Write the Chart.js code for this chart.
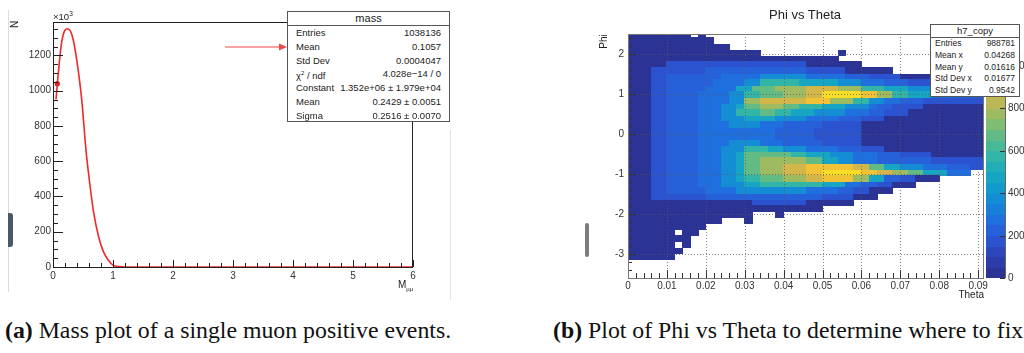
<!DOCTYPE html>
<html>
<head>
<meta charset="utf-8">
<script src="https://cdn.jsdelivr.net/npm/chart.js@4.4.0/dist/chart.umd.min.js"></script>
<style>
  body { margin: 0; background: #fff; width: 1024px; height: 353px; position: relative; overflow: hidden;
         font-family: "Liberation Sans", Arial, sans-serif; color: #222; }
  .abs { position: absolute; }
  canvas { position: absolute; top: 0; }
  .stats { position: absolute; background: #fff; border: 1px solid #555; box-sizing: border-box; }
  .stats .title { text-align: center; border-bottom: 1px solid #555; box-sizing: border-box; }
  .stats .row { position: relative; }
  .stats .row span { position: absolute; top: 0; white-space: nowrap; }
  .caption { position: absolute; font-family: "Liberation Serif", "Times New Roman", serif; font-size: 23.8px;
             white-space: nowrap; color: #111; line-height: 1; }
</style>
</head>
<body>
<canvas id="masa" width="460" height="300" style="left:0"></canvas>
<canvas id="phiTheta" width="444" height="300" style="left:580px"></canvas>

<div class="abs" style="left:8px;top:10px;width:1px;height:282px;background:#dcdcdc"></div>
<div class="abs" style="left:450px;top:130px;width:1px;height:170px;background:#e2e2e2"></div>
<div class="abs" style="left:8px;top:213px;width:5px;height:34px;background:#4a5866;border-radius:0 3px 3px 0"></div>
<div class="abs" style="left:585px;top:223px;width:4px;height:34px;background:#7c7c7c;border-radius:2px"></div>

<div class="abs" style="left:11px;top:19px;font-size:10px;transform:rotate(-90deg)">N</div>
<div class="abs" style="left:53px;top:10px;font-size:9.5px">×10<sup style="font-size:6.5px">3</sup></div>
<div class="abs" style="left:398px;top:279px;font-size:10px">M<sub style="font-size:6px">μμ</sub></div>

<svg class="abs" style="left:0;top:0" width="460" height="120">
  <line x1="225" y1="47" x2="281" y2="47" stroke="#f04848" stroke-width="1"/>
  <polygon points="279,43.5 287,47 279,50.5" fill="#f04848"/>
</svg>

<div id="massBox" class="stats" style="left:287px;top:11px;width:163px;height:111px;font-size:9.5px"></div>
<div id="h7Box" class="stats" style="left:930px;top:24px;width:90px;height:73px;font-size:8.5px"></div>

<div class="abs" style="left:705px;top:7px;width:200px;text-align:center;font-size:13px">Phi vs Theta</div>
<div class="abs" style="left:596px;top:36px;font-size:10px;transform:rotate(-90deg)">Phi</div>
<div class="abs" style="left:944px;top:289px;width:40px;text-align:right;font-size:10px">Theta</div>

<div class="caption" style="left:5px;top:319px"><b>(a)</b> Mass plot of a single muon positive events.</div>
<div class="caption" style="left:553px;top:319px"><b>(b)</b> Plot of Phi vs Theta to determine where to fix</div>
<div id="dbg" class="abs" style="left:470px;top:300px;font-size:9px;color:#c00"></div>

<script>
window.onerror = function (m, s, l) { document.getElementById("dbg").textContent = m + " @" + l; };

// ---- (a) mass plot: Gaussian fit curve
const massX = [0.05, 0.09, 0.14, 0.19, 0.24, 0.29, 0.34, 0.40, 0.48, 0.55, 0.62, 0.68, 0.76, 0.84, 0.92, 1.00, 1.10, 1.20, 6.00];
const massN = [950, 1105, 1266, 1338, 1352, 1340, 1285, 1165, 945, 662, 454, 304, 172, 87, 40, 11, 2, 0, 0];
const markX = [0.072];
const markN = [1040];
const massXTicks = [0, 1, 2, 3, 4, 5, 6];
const massYTicks = [0, 200, 400, 600, 800, 1000, 1200];

const massStats = [
  ["Entries", "1038136"],
  ["Mean", "0.1057"],
  ["Std Dev", "0.0004047"],
  ["χ<sup style='font-size:6px'>2</sup> / ndf", "4.028e−14 / 0"],
  ["Constant", "1.352e+06 ± 1.979e+04"],
  ["Mean", "0.2429 ± 0.0051"],
  ["Sigma", "0.2516 ± 0.0070"]
];

// ---- (b) Phi vs Theta: bins of 0.002 in theta, 0.15 in phi, rows from phi = 2.55 downwards
const thetaLow = 0, thetaStep = 0.002;
const phiHigh = 2.55, phiStep = 0.15;
// one character per cell: colour level 0 (empty) .. c (highest)
const heatRows = [
  "1111111101" + "0000000000" + "0000000000" + "0000000000" + "000000",
  "1111111111" + "1000000000" + "0000000000" + "0000000000" + "000000",
  "1111111111" + "1110000000" + "0000000000" + "0000000000" + "000000",
  "1111111111" + "1111111000" + "0000000100" + "0000000000" + "000000",
  "1111111111" + "1111111111" + "1111111000" + "0000000000" + "000000",
  "1111122222" + "2222222222" + "2221111111" + "0000000000" + "000000",
  "1112222222" + "3333333333" + "3332222211" + "1111000000" + "000000",
  "1112233333" + "3344444555" + "5554444433" + "3222211110" + "000000",
  "1112233333" + "3444455777" + "7766666555" + "4443332221" + "111000",
  "1112233333" + "4444668889" + "999aaaa999" + "7776665553" + "332222",
  "1112233334" + "4445577888" + "999aaccccc" + "bb99776664" + "443333",
  "1112233334" + "4445599aaa" + "aaabbb9997" + "7554433322" + "222222",
  "1112233334" + "4455688999" + "8877766655" + "5433222211" + "111111",
  "1112233334" + "4455777887" + "7666555544" + "4332221111" + "111111",
  "1112233334" + "4455566665" + "5554444333" + "2221111111" + "111111",
  "1112233334" + "4445555444" + "3333322222" + "1111111111" + "111111",
  "1112233334" + "4444444443" + "3333222222" + "1111111111" + "111111",
  "1112233334" + "4444444443" + "3333222222" + "1111111111" + "111111",
  "1112233334" + "4445555444" + "3333322222" + "1111111111" + "111111",
  "1112233334" + "4455577766" + "5554444333" + "2221111111" + "111111",
  "1112233334" + "4455688888" + "8776665554" + "4433322221" + "111111",
  "1112233334" + "4455688999" + "9998866554" + "4433333332" + "222222",
  "1112233334" + "4455688999" + "aaabbbbbba" + "a886655544" + "433322",
  "1112233334" + "4455688999" + "aaabbccccc" + "bbaa998866" + "644400",
  "1112233334" + "4455677888" + "999aabbbb9" + "9663322111" + "000000",
  "1112233334" + "4455566777" + "7777766644" + "3322111000" + "000000",
  "1112233333" + "4444555555" + "5554444332" + "2111000000" + "000000",
  "1112222222" + "3333333333" + "3333322221" + "1100000000" + "000000",
  "1111111111" + "1111112222" + "2221111110" + "0000000000" + "000000",
  "1111111111" + "1111111111" + "1111100000" + "0000000000" + "000000",
  "1111111111" + "1111110001" + "0000000000" + "0000000000" + "000000",
  "1111111111" + "1100010000" + "0000000000" + "0000000000" + "000000",
  "1111111111" + "0000000000" + "0000000000" + "0000000000" + "000000",
  "1111110110" + "0000000000" + "0000000000" + "0000000000" + "000000",
  "1111111100" + "0000000000" + "0000000000" + "0000000000" + "000000",
  "1111110100" + "0000000000" + "0000000000" + "0000000000" + "000000",
  "1111111000" + "0000000000" + "0000000000" + "0000000000" + "000000",
  "1111110000" + "0000000000" + "0000000000" + "0000000000" + "000000"
];
// entries per cell for each level
const levelCounts = [0, 25, 160, 210, 290, 375, 475, 575, 675, 775, 875, 975, 1075];
const zMax = 1150;
const zTicks = [0, 200, 400, 600, 800, 1000];
const thetaTicks = [0, 0.01, 0.02, 0.03, 0.04, 0.05, 0.06, 0.07, 0.08, 0.09];
const phiTicks = [-3, -2, -1, 0, 1, 2];

const h7Stats = [
  ["Entries", "988781"],
  ["Mean x", "0.04268"],
  ["Mean y", "0.01616"],
  ["Std Dev x", "0.01677"],
  ["Std Dev y", "0.9542"]
];

// palette, one colour per 50 entries
const paleta = ["#2b3494", "#2c3ca8", "#2d46bc", "#2b53d0", "#2761da", "#1f70de", "#187fda", "#148dd4",
  "#129acd", "#17a5c4", "#22aeb6", "#32b4a6", "#48b996", "#62bb84", "#80bc72", "#9ebb62",
  "#bab856", "#d2b64a", "#e6b940", "#f2c236", "#f8cf2e", "#f8dd26", "#f6eb1e"];

function colorPara(v) {
  return paleta[Math.min(paleta.length - 1, Math.floor(v / 50))];
}

function llenarCaja(id, titulo, filas, tituloAlto, filaAlto, tituloFont, pad) {
  const caja = document.getElementById(id);
  let html = `<div class="title" style="height:${tituloAlto}px;line-height:${tituloAlto - 1}px;font-size:${tituloFont}px">${titulo}</div>`;
  filas.forEach(f => {
    html += `<div class="row" style="height:${filaAlto}px;line-height:${filaAlto}px">` +
      `<span style="left:${pad}px">${f[0]}</span><span style="right:${pad}px">${f[1]}</span></div>`;
  });
  caja.innerHTML = html;
}
llenarCaja("massBox", "mass", massStats, 14, 13.8, 11, 8);
llenarCaja("h7Box", "h7_copy", h7Stats, 13, 11.8, 9.5, 4);

// ticks hacia dentro, estilo ROOT
function marcar(ctx, a, scale, step, len, vertical) {
  const k0 = Math.ceil(scale.min / step - 1e-6);
  const k1 = Math.floor(scale.max / step + 1e-6);
  ctx.beginPath();
  for (let k = k0; k <= k1; k++) {
    const p = Math.round(scale.getPixelForValue(k * step)) + 0.5;
    if (vertical) {
      ctx.moveTo(p, a.bottom);
      ctx.lineTo(p, a.bottom - len);
    } else {
      ctx.moveTo(a.left, p);
      ctx.lineTo(a.left + len, p);
    }
  }
  ctx.stroke();
}

function marcoRoot(opt) {
  return {
    id: "marcoRoot",
    beforeDatasetsDraw(chart) {
      if (opt.celdas) opt.celdas(chart);
    },
    afterDraw(chart) {
      const ctx = chart.ctx, a = chart.chartArea;
      const xs = chart.scales.x, ys = chart.scales.y;
      ctx.save();
      if (opt.grid) {
        ctx.strokeStyle = opt.grid;
        ctx.lineWidth = 1;
        ctx.setLineDash([1, 2]);
        ctx.beginPath();
        thetaTicks.forEach(v => {
          const px = Math.round(xs.getPixelForValue(v)) + 0.5;
          if (px > a.left + 2 && px < a.right - 2) { ctx.moveTo(px, a.top); ctx.lineTo(px, a.bottom); }
        });
        phiTicks.forEach(v => {
          const py = Math.round(ys.getPixelForValue(v)) + 0.5;
          if (py > a.top + 2 && py < a.bottom - 2) { ctx.moveTo(a.left, py); ctx.lineTo(a.right, py); }
        });
        ctx.stroke();
        ctx.setLineDash([]);
      }
      ctx.strokeStyle = opt.color;
      ctx.lineWidth = 1;
      marcar(ctx, a, xs, opt.xMinor, opt.xMinorLen, true);
      marcar(ctx, a, xs, opt.xMajor, opt.xMajorLen, true);
      marcar(ctx, a, ys, opt.yMinor, opt.yMinorLen, false);
      marcar(ctx, a, ys, opt.yMajor, opt.yMajorLen, false);
      ctx.strokeStyle = opt.frame;
      ctx.strokeRect(a.left + 0.5, a.top + 0.5, a.right - a.left - 1, a.bottom - a.top);
      ctx.restore();
      if (opt.despues) opt.despues(chart);
    }
  };
}

const fuenteEje = { family: "Liberation Sans", size: 10 };

new Chart(document.getElementById("masa"), {
  type: "line",
  data: {
    datasets: [{
      data: massX.map((x, i) => ({ x: x, y: massN[i] })),
      borderColor: "#f02828",
      borderWidth: 1.6,
      pointRadius: 0,
      cubicInterpolationMode: "monotone",
      fill: false
    }, {
      data: markX.map((x, i) => ({ x: x, y: markN[i] })),
      showLine: false,
      pointRadius: 2.6,
      pointBackgroundColor: "#e01818",
      pointBorderWidth: 0
    }]
  },
  options: {
    responsive: false,
    animation: false,
    layout: { padding: { top: 22, right: 47, left: 0, bottom: 0 } },
    plugins: { legend: { display: false }, tooltip: { enabled: false } },
    scales: {
      x: {
        type: "linear", min: 0, max: 6,
        grid: { display: false, drawTicks: false }, border: { display: false },
        ticks: { font: fuenteEje, color: "#333", padding: 3, maxRotation: 0, callback: v => String(v) },
        afterBuildTicks: s => { s.ticks = massXTicks.map(v => ({ value: v })); },
        afterFit: s => { s.height = 33; }
      },
      y: {
        type: "linear", min: 0, max: 1390,
        grid: { display: false, drawTicks: false }, border: { display: false },
        ticks: { font: fuenteEje, color: "#333", padding: 2, callback: v => String(v) },
        afterBuildTicks: s => { s.ticks = massYTicks.map(v => ({ value: v })); },
        afterFit: s => { s.width = 53; }
      }
    }
  },
  plugins: [marcoRoot({
    color: "#222", frame: "#222",
    xMajor: 1, xMinor: 0.2, xMajorLen: 7, xMinorLen: 4,
    yMajor: 200, yMinor: 50, yMajorLen: 10, yMinorLen: 5
  })]
});

function dibujarCeldas(chart) {
  const { ctx, chartArea: a, scales: { x, y } } = chart;
  ctx.save();
  ctx.beginPath();
  ctx.rect(a.left, a.top, a.right - a.left, a.bottom - a.top);
  ctx.clip();
  heatRows.forEach((fila, r) => {
    const techo = phiHigh - r * phiStep;
    const y0 = Math.floor(y.getPixelForValue(techo));
    const y1 = Math.ceil(y.getPixelForValue(techo - phiStep));
    for (let c = 0; c < fila.length; c++) {
      const nivel = parseInt(fila[c], 16);
      if (!nivel) continue;
      const x0 = Math.floor(x.getPixelForValue(thetaLow + c * thetaStep));
      const x1 = Math.ceil(x.getPixelForValue(thetaLow + (c + 1) * thetaStep));
      ctx.fillStyle = colorPara(levelCounts[nivel]);
      ctx.fillRect(x0, y0, x1 - x0, y1 - y0);
    }
  });
  ctx.restore();
}

function dibujarPaleta(chart) {
  const { ctx, chartArea: a, scales } = chart;
  const z = scales.zc;
  const izq = a.right + 2, der = a.right + 21;
  ctx.save();
  for (let b = 0; b * 50 < zMax; b++) {
    const yA = z.getPixelForValue(Math.min(zMax, (b + 1) * 50));
    const yB = z.getPixelForValue(b * 50);
    ctx.fillStyle = paleta[b];
    ctx.fillRect(izq, Math.floor(yA), der - izq, Math.ceil(yB) - Math.floor(yA));
  }
  ctx.strokeStyle = "#666";
  ctx.beginPath(); ctx.moveTo(der + 0.5, a.top); ctx.lineTo(der + 0.5, a.bottom); ctx.stroke();
  ctx.strokeStyle = "#333";
  ctx.fillStyle = "#333";
  ctx.font = "10px 'Liberation Sans'";
  ctx.textBaseline = "middle";
  zTicks.forEach(v => {
    const py = Math.round(z.getPixelForValue(v)) + 0.5;
    ctx.beginPath(); ctx.moveTo(der - 5, py); ctx.lineTo(der, py); ctx.stroke();
    ctx.fillText(String(v), der + 3, py);
  });
  ctx.restore();
}

new Chart(document.getElementById("phiTheta"), {
  type: "scatter",
  data: { datasets: [{ data: [], pointRadius: 0 }] },
  options: {
    responsive: false,
    animation: false,
    layout: { padding: { top: 34, right: 40, left: 0, bottom: 0 } },
    plugins: { legend: { display: false }, tooltip: { enabled: false } },
    scales: {
      x: {
        type: "linear", min: 0, max: 0.0915,
        grid: { display: false, drawTicks: false }, border: { display: false },
        ticks: { font: fuenteEje, color: "#333", padding: 2, maxRotation: 0,
                 callback: v => v === 0 ? "0" : v.toFixed(2) },
        afterBuildTicks: s => { s.ticks = thetaTicks.map(v => ({ value: v })); },
        afterFit: s => { s.height = 22; }
      },
      y: {
        type: "linear", min: -3.6, max: 2.5,
        grid: { display: false, drawTicks: false }, border: { display: false },
        ticks: { font: fuenteEje, color: "#333", padding: 4, callback: v => String(v) },
        afterBuildTicks: s => { s.ticks = phiTicks.map(v => ({ value: v })); },
        afterFit: s => { s.width = 48; }
      },
      zc: { type: "linear", axis: "y", position: "right", display: false, min: 0, max: zMax }
    }
  },
  plugins: [marcoRoot({
    color: "#333", frame: "#777", grid: "rgba(90,90,90,0.75)",
    xMajor: 0.01, xMinor: 0.002, xMajorLen: 8, xMinorLen: 5,
    yMajor: 1, yMinor: 0.2, yMajorLen: 8, yMinorLen: 4,
    celdas: dibujarCeldas,
    despues: dibujarPaleta
  })]
});
</script>
</body>
</html>
